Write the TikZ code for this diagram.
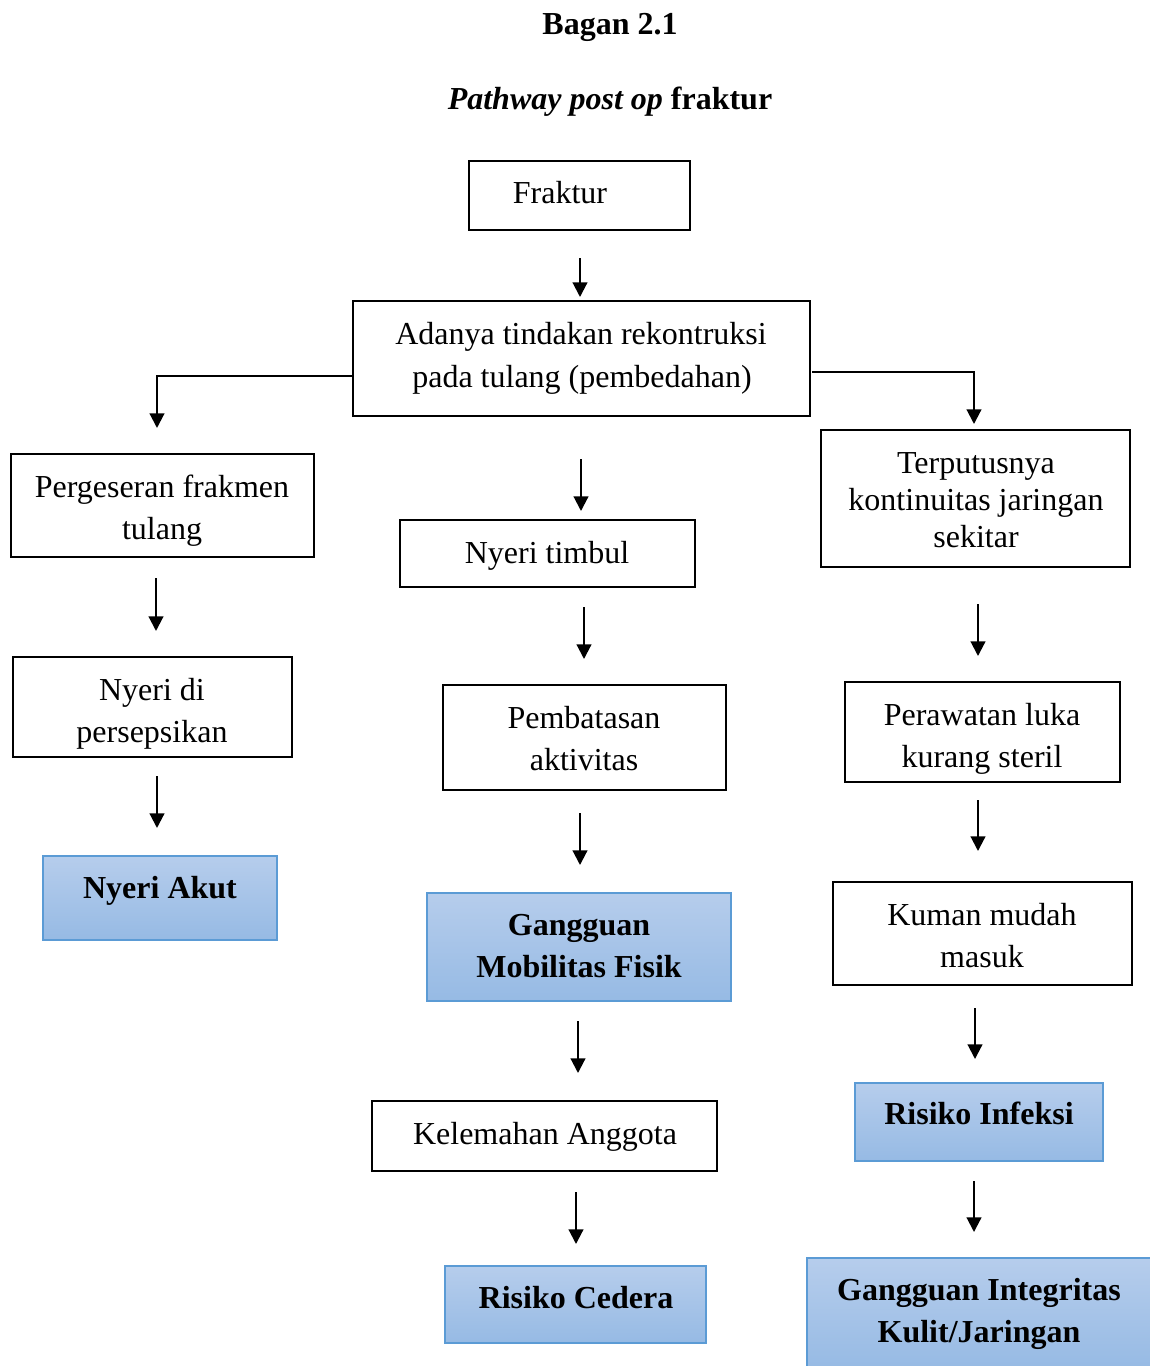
\documentclass[tikz,border=0pt]{standalone}
\usepackage{fontspec}
\setmainfont{Liberation Serif}
\usetikzlibrary{arrows.meta,fit,calc}
\definecolor{bluetop}{RGB}{182,205,236}
\definecolor{bluebot}{RGB}{150,186,228}
\definecolor{blueline}{RGB}{91,155,213}
\tikzset{
  box/.style={draw=black, line width=1.6pt, inner sep=0pt, fill=white},
  bluebox/.style={draw=blueline, line width=1.1pt, inner sep=0pt, top color=bluetop, bottom color=bluebot},
  txt/.style={anchor=base, inner sep=0pt, font=\fontsize{24}{33}\selectfont},
  btxt/.style={anchor=base, inner sep=0pt, font=\fontsize{24}{33}\selectfont\bfseries},
  arr/.style={line width=1.6pt, -{Triangle[width=11pt,length=11pt]}},
}
\begin{document}
\begin{tikzpicture}[x=0.75pt,y=-0.75pt]
\useasboundingbox (0,0) rectangle (1149,1366);
% titles
\node[btxt] (title1) at (610,35) {Bagan 2.1};
\node[btxt] (title2) at (610,110) {\textit{Pathway post op} fraktur};
% boxes
\node[box, fit={(469,161)(690,230)}] (fraktur) {};
\node[txt] (tfraktur) at (560,204) {Fraktur};
\node[box, fit={(353,301)(810,416)}] (adanya) {};
\node[txt] (tadanya1) at (581,344) {Adanya tindakan rekontruksi};
\node[txt] (tadanya2) at (582,387) {pada tulang (pembedahan)};
\node[box, fit={(11,454)(314,557)}] (perg) {};
\node[txt] (tperg1) at (162,497) {Pergeseran frakmen};
\node[txt] (tperg2) at (162,539) {tulang};
\node[box, fit={(400,520)(695,587)}] (nyerit) {};
\node[txt] (tnyerit) at (547,563) {Nyeri timbul};
\node[box, fit={(821,430)(1130,567)}] (terp) {};
\node[txt] (tterp1) at (976,473) {Terputusnya};
\node[txt] (tterp2) at (976,510) {kontinuitas jaringan};
\node[txt] (tterp3) at (976,547) {sekitar};
\node[box, fit={(13,657)(292,757)}] (nyerid) {};
\node[txt] (tnyerid1) at (152,700) {Nyeri di};
\node[txt] (tnyerid2) at (152,742) {persepsikan};
\node[box, fit={(443,685)(726,790)}] (pemb) {};
\node[txt] (tpemb1) at (584,728) {Pembatasan};
\node[txt] (tpemb2) at (584,770) {aktivitas};
\node[box, fit={(845,682)(1120,782)}] (peraw) {};
\node[txt] (tperaw1) at (982,725) {Perawatan luka};
\node[txt] (tperaw2) at (982,767) {kurang steril};
\node[bluebox, fit={(43,856)(277,940)}] (akut) {};
\node[btxt] (takut) at (160,898) {Nyeri Akut};
\node[bluebox, fit={(427,893)(731,1001)}] (mobil) {};
\node[btxt] (tmobil1) at (579,935) {Gangguan};
\node[btxt] (tmobil2) at (579,977) {Mobilitas Fisik};
\node[box, fit={(833,882)(1132,985)}] (kuman) {};
\node[txt] (tkuman1) at (982,925) {Kuman mudah};
\node[txt] (tkuman2) at (982,967) {masuk};
\node[bluebox, fit={(855,1083)(1103,1161)}] (infeksi) {};
\node[btxt] (tinfeksi) at (979,1124) {Risiko Infeksi};
\node[box, fit={(372,1101)(717,1171)}] (lemah) {};
\node[txt] (tlemah) at (545,1144) {Kelemahan Anggota};
\node[bluebox, fit={(445,1266)(706,1343)}] (cedera) {};
\node[btxt] (tcedera) at (576,1308) {Risiko Cedera};
\node[bluebox, fit={(807,1258)(1152,1370)}] (integ) {};
\node[btxt] (tinteg1) at (979,1300) {Gangguan Integritas};
\node[btxt] (tinteg2) at (979,1342) {Kulit/Jaringan};
% branch connectors
\coordinate (ly) at (0,376);
\coordinate (lend) at (157,428);
\draw[arr] (adanya.west |- ly) -| (lend);
\coordinate (ry) at (812,372);
\coordinate (rend) at (974,424);
\draw[arr] (ry) -| (rend);
% free arrows
\foreach \n/\x/\ya/\yb in {a1/580/258/297, a2/581/459/511, a3/156/578/631, a4/584/607/659,
  a5/978/604/656, a6/157/776/828, a7/580/813/865, a8/978/800/851, a9/578/1021/1073,
  a10/975/1008/1059, a11/576/1192/1244, a12/974/1181/1232}{
  \coordinate (\n s) at (\x,\ya);
  \coordinate (\n e) at (\x,\yb);
  \draw[arr] (\n s) -- (\n e);
}
\end{tikzpicture}
\end{document}
